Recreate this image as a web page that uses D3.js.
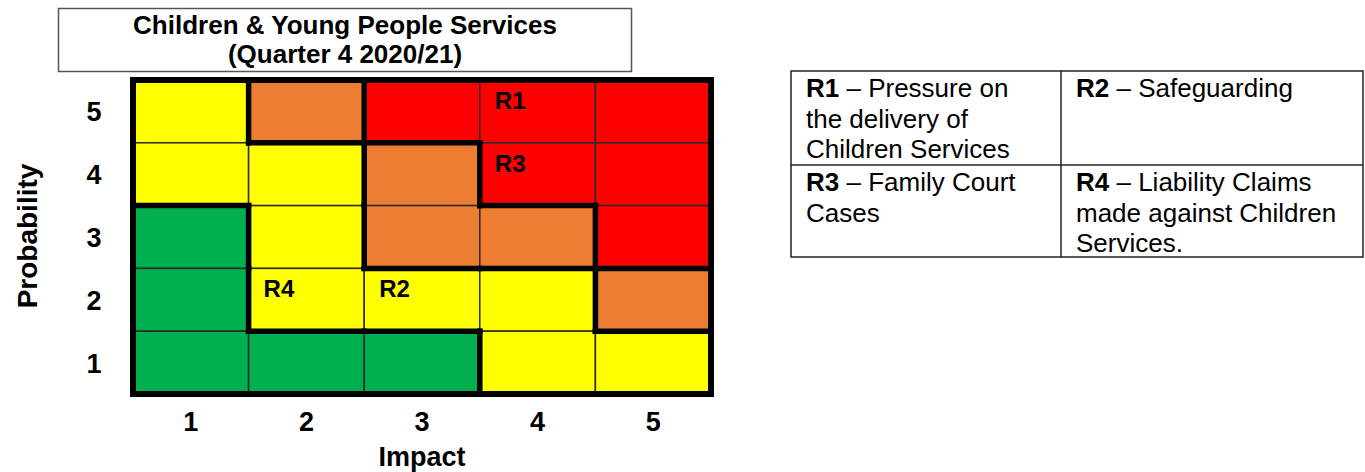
<!DOCTYPE html>
<html>
<head>
<meta charset="utf-8">
<script src="https://cdn.jsdelivr.net/npm/d3@7"></script>
<style>
  html, body { margin: 0; padding: 0; background: #fff; }
  svg { display: block; }
  text { font-family: "Liberation Sans", Arial, sans-serif; fill: #000; }
</style>
</head>
<body>
<div id="chart"></div>
<script>
// ==========================================
// DATA
// ==========================================
const titleLines = ['Children & Young People Services', '(Quarter 4 2020/21)'];
const impacts = [1, 2, 3, 4, 5];
const probabilities = [5, 4, 3, 2, 1];
// rating per cell, top row = probability 5, columns = impact 1..5
const ratingGrid = [
    ['Y', 'O', 'R', 'R', 'R'],
    ['Y', 'Y', 'O', 'R', 'R'],
    ['G', 'Y', 'O', 'O', 'R'],
    ['G', 'Y', 'Y', 'Y', 'O'],
    ['G', 'G', 'G', 'Y', 'Y']
];
const riskIds = ['R1', 'R2', 'R3', 'R4'];
const riskImpact = [4, 3, 4, 2];
const riskProbability = [5, 2, 4, 2];
const riskDescriptions = [
    ['Pressure on', 'the delivery of', 'Children Services'],
    ['Safeguarding'],
    ['Family Court', 'Cases'],
    ['Liability Claims', 'made against Children', 'Services.']
];

const COLORS = { G: '#00B050', Y: '#FFFF00', O: '#ED7D31', R: '#FF0000' };

const W = 1365, H = 472;
const GRID = { left: 133, right: 711, top: 80, bottom: 394 };

const svg = d3.select('#chart').append('svg')
    .attr('width', W)
    .attr('height', H);

// ==========================================
// TITLE BOX
// ==========================================
svg.append('rect')
    .attr('x', 58.5).attr('y', 8.5)
    .attr('width', 573).attr('height', 63)
    .attr('fill', '#fff')
    .attr('stroke', '#555')
    .attr('stroke-width', 1.5);

titleLines.forEach((t, i) => {
    svg.append('text')
        .attr('x', 345)
        .attr('y', 34 + i * 29)
        .attr('text-anchor', 'middle')
        .attr('font-size', 26)
        .attr('font-weight', 'bold')
        .text(t);
});

// ==========================================
// RISK MATRIX
// ==========================================
const xScale = d3.scaleBand().domain(impacts).range([GRID.left, GRID.right]);
const yScale = d3.scaleBand().domain(probabilities).range([GRID.top, GRID.bottom]);
const bw = xScale.bandwidth();
const bh = yScale.bandwidth();

const cells = [];
probabilities.forEach((p, r) => {
    impacts.forEach((imp, c) => {
        cells.push({ p, imp, r, c, rating: ratingGrid[r][c] });
    });
});

const g = svg.append('g');

g.selectAll('rect.cell')
    .data(cells)
    .enter().append('rect')
    .attr('class', 'cell')
    .attr('x', d => xScale(d.imp))
    .attr('y', d => yScale(d.p))
    .attr('width', bw)
    .attr('height', bh)
    .attr('fill', d => COLORS[d.rating])
    .attr('stroke', '#2a2a2a')
    .attr('stroke-width', 1.5);

// thick borders wherever neighbouring ratings differ
const thick = [];
for (let r = 0; r < probabilities.length; r++) {
    for (let c = 0; c < impacts.length; c++) {
        const x = xScale(impacts[c]);
        const y = yScale(probabilities[r]);
        if (c < impacts.length - 1 && ratingGrid[r][c] !== ratingGrid[r][c + 1]) {
            thick.push([x + bw, y, x + bw, y + bh]);
        }
        if (r < probabilities.length - 1 && ratingGrid[r][c] !== ratingGrid[r + 1][c]) {
            thick.push([x, y + bh, x + bw, y + bh]);
        }
    }
}

g.selectAll('line.thick')
    .data(thick)
    .enter().append('line')
    .attr('x1', d => d[0]).attr('y1', d => d[1])
    .attr('x2', d => d[2]).attr('y2', d => d[3])
    .attr('stroke', '#000')
    .attr('stroke-width', 5.5)
    .attr('stroke-linecap', 'square');

g.append('rect')
    .attr('x', GRID.left)
    .attr('y', GRID.top)
    .attr('width', GRID.right - GRID.left)
    .attr('height', GRID.bottom - GRID.top)
    .attr('fill', 'none')
    .attr('stroke', '#000')
    .attr('stroke-width', 6);

// risk labels in cells
riskIds.forEach((id, i) => {
    g.append('text')
        .attr('x', xScale(riskImpact[i]) + 15)
        .attr('y', yScale(riskProbability[i]) + 29)
        .attr('font-size', 24)
        .attr('font-weight', 'bold')
        .text(id);
});

// tick labels
probabilities.forEach(p => {
    svg.append('text')
        .attr('x', 94)
        .attr('y', yScale(p) + bh / 2 + 10)
        .attr('text-anchor', 'middle')
        .attr('font-size', 27)
        .attr('font-weight', 'bold')
        .text(p);
});

impacts.forEach(v => {
    svg.append('text')
        .attr('x', xScale(v) + bw / 2)
        .attr('y', 431)
        .attr('text-anchor', 'middle')
        .attr('font-size', 27)
        .attr('font-weight', 'bold')
        .text(v);
});

svg.append('text')
    .attr('x', 422)
    .attr('y', 466)
    .attr('text-anchor', 'middle')
    .attr('font-size', 27)
    .attr('font-weight', 'bold')
    .text('Impact');

svg.append('text')
    .attr('transform', 'translate(37,236) rotate(-90)')
    .attr('text-anchor', 'middle')
    .attr('font-size', 28)
    .attr('font-weight', 'bold')
    .text('Probability');

// ==========================================
// LEGEND TABLE
// ==========================================
const TABLE = { cols: [791, 1061, 1363], rows: [71, 165, 257] };
const tg = svg.append('g');

tg.append('rect')
    .attr('x', TABLE.cols[0]).attr('y', TABLE.rows[0])
    .attr('width', TABLE.cols[2] - TABLE.cols[0])
    .attr('height', TABLE.rows[2] - TABLE.rows[0])
    .attr('fill', 'none')
    .attr('stroke', '#222')
    .attr('stroke-width', 1.5);

tg.append('line')
    .attr('x1', TABLE.cols[1]).attr('x2', TABLE.cols[1])
    .attr('y1', TABLE.rows[0]).attr('y2', TABLE.rows[2])
    .attr('stroke', '#222').attr('stroke-width', 1.5);

tg.append('line')
    .attr('x1', TABLE.cols[0]).attr('x2', TABLE.cols[2])
    .attr('y1', TABLE.rows[1]).attr('y2', TABLE.rows[1])
    .attr('stroke', '#222').attr('stroke-width', 1.5);

riskIds.forEach((id, i) => {
    const cx = TABLE.cols[i % 2] + 15;
    const cy = TABLE.rows[Math.floor(i / 2)] + 26;
    const lines = riskDescriptions[i];
    lines.forEach((line, li) => {
        const t = tg.append('text')
            .attr('x', cx)
            .attr('y', cy + li * 30.5)
            .attr('font-size', 26);
        if (li === 0) {
            t.append('tspan').attr('font-weight', 'bold').text(id);
            t.append('tspan').text(' \u2013 ' + line);
        } else {
            t.text(line);
        }
    });
});
</script>
</body>
</html>
